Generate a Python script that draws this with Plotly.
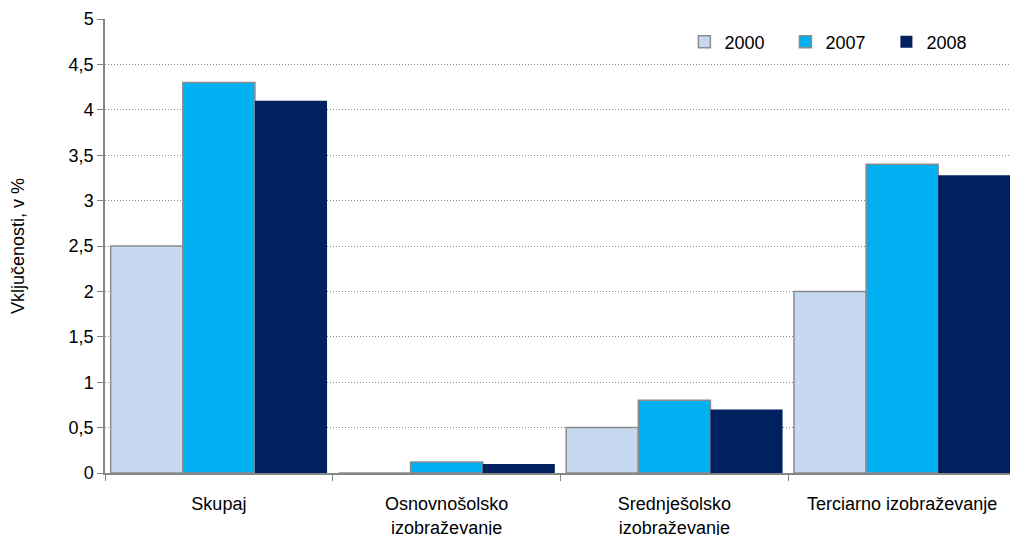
import plotly.graph_objects as go

# Categories and values
categories = ['Skupaj', 'Osnovnošolsko<br>izobraževanje', 'Srednješolsko<br>izobraževanje', 'Terciarno izobraževanje']
v2000 = [2.5, 0, 0.5, 2.0]
v2007 = [4.3, 0.12, 0.8, 3.4]
v2008 = [4.1, 0.1, 0.7, 3.28]
y_ticks = [0, 0.5, 1, 1.5, 2, 2.5, 3, 3.5, 4, 4.5, 5]
y_labels = ['0', '0,5', '1', '1,5', '2', '2,5', '3', '3,5', '4', '4,5', '5']

fig = go.Figure()
fig.add_trace(go.Bar(x=categories, y=v2000, name='2000',
                     marker=dict(color='#c6d9f0', line=dict(color='#8c8c8c', width=1.5))))
fig.add_trace(go.Bar(x=categories, y=v2007, name='2007',
                     marker=dict(color='#00b0f0', line=dict(color='#8c8c8c', width=1.5))))
fig.add_trace(go.Bar(x=categories, y=v2008, name='2008',
                     marker=dict(color='#002060', line=dict(width=0))))

# page body has an 8px margin, so the figure is sized and placed to compensate
fig.update_layout(
    width=1010, height=527,
    margin=dict(l=97, r=2, t=11, b=62, autoexpand=False),
    barmode='group', bargap=0.05, bargroupgap=0,
    plot_bgcolor='white', paper_bgcolor='white',
    font=dict(family='Liberation Sans, Arial', size=18, color='black'),
    legend=dict(orientation='h', x=0.636, y=0.99, xanchor='left', yanchor='top',
                entrywidth=56, itemwidth=30, font=dict(size=18), bgcolor='rgba(0,0,0,0)'),
    showlegend=True,
)
fig.update_xaxes(showline=True, linecolor='#868686', linewidth=1.5,
                 ticks='outside', tickson='boundaries', ticklen=6, tickcolor='#868686',
                 tickfont=dict(size=18), automargin=False, ticklabelstandoff=14,
                 showgrid=False, mirror=False)
fig.update_yaxes(range=[0, 5], tickvals=y_ticks, ticktext=y_labels,
                 showline=True, linecolor='#868686', linewidth=1.5,
                 ticks='outside', ticklen=6, tickcolor='#868686',
                 tickfont=dict(size=18), automargin=False,
                 showgrid=True, gridcolor='#8c8c8c', griddash='1px,2px', gridwidth=1,
                 zeroline=False,
                 title=dict(text='Vključenosti, v %', standoff=40, font=dict(size=18)))

fig.write_html("out.html")
